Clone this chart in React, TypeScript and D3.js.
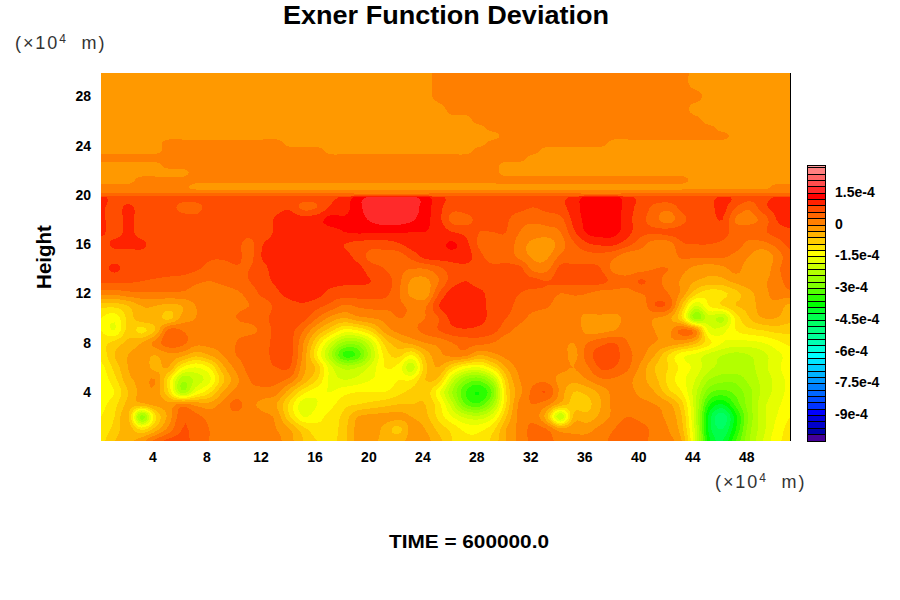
import React from "react";
import * as d3 from "d3";

// Exner deviation, in units of 1e-4. Each row holds 52 samples, x ≈ 0.15 … 51.2 (×10⁴ m).
const rowHeights = [0,1,2,3,4,5,6,7,8,9,10,11,12,13,14,15,16,17,18,19,19.8,20,20.3,20.6,21.2,21.8,22.4,23,23.6,24.2,24.8,25.4,26,27,28,29,29.9];

const y00 = [-1.0,-.6,-.4,-.1,.4,.7,.7,.5,.3,.2, .2,.2,.2,.1,-.2,-.6,-.9,-1.0,-.7,-.2, -.2,-.4,-.4,-.2,-.2,-.5,-.9,-1.1,-1.1,-.8, -.3,.1,.4,.4,.2,.1,.1,.2,.4,.5, .4,.2,.1,-.3,-1.8,-3.8,-4.2,-3.3,-2.4,-1.8, -1.3,-1.1];
const y01 = [-1.1,-.8,-.4,-1.0,-.5,.1,.6,.5,.3,.2, .2,.2,.2,0,-.3,-.8,-1.1,-1.1,-.7,-.2, -.1,-.4,-.7,-.2,-.3,-.7,-1.0,-1.3,-1.3,-1.0, -.3,.1,.4,.3,-.2,-.1,-.1,.1,.3,.5, .4,.2,0,-.5,-1.9,-4.0,-4.5,-3.6,-2.5,-1.9, -1.4,-1.1];
const y02 = [-1.2,-.9,-.5,-2.6,-1.0,-.2,.5,.4,.2,.2, .2,.2,.1,-.1,-.9,-1.5,-1.3,-1.1,-.8,-.3, -.2,-.2,-.2,-.3,-.5,-1.0,-1.5,-1.9,-2.0,-1.6, -.6,.1,.2,-.5,-2.1,-.5,-.5,-.2,.1,.3, .2,.1,-.1,-.6,-2.0,-4.0,-4.7,-3.7,-2.6,-1.9, -1.5,-1.2];
const y03 = [-1.3,-1.0,-.5,-.4,-.2,-.2,.1,-.1,-.2,.1, .4,.1,-.1,-.3,-1.0,-1.7,-1.5,-1.3,-1.0,-.9, -.8,-.7,-.6,-.6,-.6,-1.1,-2.0,-3.0,-3.2,-2.4, -.9,.1,.3,.1,-.4,-.7,-.7,-.3,.1,.2, .1,0,-.2,-.8,-2.0,-3.5,-3.9,-3.2,-2.5,-1.9, -1.6,-1.3];
const y04 = [-1.4,-1.2,-.6,-.2,-.1,-.9,-2.3,-1.5,-1.0,-.3, .1,.2,.2,.1,-.5,-1.1,-1.4,-1.5,-1.3,-1.2, -1.2,-1.2,-1.0,-.8,-.7,-1.4,-2.4,-3.3,-3.6,-2.9, -.9,-.1,.4,.6,-.1,-.6,-.5,-.2,.1,.1, -.1,-.3,-.8,-1.2,-2.0,-2.9,-3.1,-2.9,-2.5,-2.0, -1.7,-1.4];
const y05 = [-1.4,-1.0,-.4,-.2,0,-1.0,-2.3,-2.0,-1.6,-.7, -.1,.3,.4,.4,.2,-.4,-.9,-1.6,-1.8,-1.7, -1.5,-1.4,-1.2,-1.2,-.6,-.7,-1.9,-2.7,-2.9,-2.2, -.7,0,.2,.2,-.1,-.2,0,.25,.25,.1, -.2,-.5,-1.0,-1.4,-1.8,-2.4,-2.6,-2.6,-2.3,-2.0, -1.7,-1.4];
const y06 = [-1.3,-.8,-.3,-.1,-.4,-.3,-1.2,-1.5,-1.2,-.4, .1,.4,.5,.6,.6,-.2,-.7,-1.7,-2.2,-2.1, -1.7,-1.2,-1.3,-2.0,-.7,-.3,-.9,-1.4,-1.5,-1.0, -.3,.1,.1,.1,.1,0,.25,.65,.6,.35, -.1,-.6,-.9,-1.3,-1.6,-2.0,-2.2,-2.2,-2.2,-1.9, -1.6,-1.3];
const y07 = [-1.1,-.6,-.3,-.2,-.3,-.1,-.2,-.5,-.3,0, .3,.4,.5,.7,.7,-.1,-1.2,-2.3,-3.4,-3.2, -2.1,-1.1,-.8,-1.2,-.5,-.1,.1,.1,-.3,-.1, .1,.2,.2,.2,.2,-.1,.45,.75,.7,.4, .1,-.3,-.9,-1.4,-1.6,-1.9,-2.1,-2.2,-2.1,-1.9, -1.6,-1.4];
const y08 = [-1.0,-.8,-.5,-.3,.1,.5,.4,.1,.1,.1, .3,.5,.5,.7,.7,0,-.9,-1.8,-2.5,-2.5, -1.8,-.8,-.4,-.2,0,.1,.3,.4,.4,.3, .1,.2,.2,.2,.1,0,.3,.5,.6,.3, .1,0,-.1,-.2,-.5,-1.1,-1.5,-1.6,-1.6,-1.5, -1.3,-1.1];
const y09 = [-1.2,-1.5,-.8,-1.0,-.6,.4,.3,.1,.1,.1, .2,.2,.4,.7,.7,.3,-.3,-.8,-1.3,-1.2, -.8,-.2,.1,.2,.4,.6,.8,.85,.8,.7, .4,.2,.1,.2,.2,.2,-.1,-.1,0,.2, .1,0,-.1,.4,.1,-1.6,-1.6,-1.2,-1.0,-.9, -.8,-.8];
const y10 = [-1.2,-1.4,-.8,-.4,-.4,-.7,-.2,0,.1,.2, .3,.4,.5,.75,.8,.7,.3,-.1,-.3,-.1, 0,.1,.3,.25,.3,.6,1.0,1.1,1.0,.8, .6,.4,.2,.1,.1,.1,-.1,-.1,-.1,.1, .1,0,-.2,-.9,-2.6,-1.9,-2.2,-1.1,-.6,-.3, -.3,-.5];
const y11 = [-.8,-.8,-.6,-.3,-.3,-.4,-.3,0,.15,.2, .25,.3,.4,.7,.8,.85,.7,.5,.25,.35, .4,.4,.35,.25,.25,.9,1.1,1.1,1.0,.8, .7,.5,.4,.35,.1,.1,.2,.3,.2,.2, .1,.6,.5,-.6,-1.8,-1.2,-.9,-.6,-.5,-.1, -.1,-.4];
const y12 = [.1,.1,.2,.25,.25,.25,.25,.2,.2,.2, .25,.4,.7,.85,1.0,1.05,1.0,.8,.75,.75, .75,.7,.35,-.1,-.2,.6,1.05,1.1,1.0,.75, .7,.6,.5,.5,.3,.35,.3,.2,.2,.2, .3,.4,.3,-.1,-.8,-1.1,-1.0,-.7,-.4,-.1, .1,.2];
const y13 = [.65,.65,.65,.6,.55,.5,.45,.35,.3,.35, .45,.6,.8,.95,1.0,1.05,1.05,1.0,.95,.95, .9,.8,.4,-.05,-.1,.3,.75,.9,.75,.75, .7,.7,.7,.6,.7,.7,.7,.7,.5,.4, .65,.4,.2,-.05,-.3,-.4,-.4,-.2,-.1,-.05, .15,.45];
const y14 = [.8,.95,.8,.75,.75,.75,.75,.65,.5,.45, .55,.6,.8,1.05,1.05,1.05,1.05,1.05,1.05,1.0, .75,.6,.4,.3,.3,.5,.75,.8,.8,.7, .7,.7,.2,.2,.7,.7,.7,.6,.2,.15, .2,.3,.3,.1,-.1,-.2,-.1,.1,-.2,-.25, .2,.5];
const y15 = [.8,.8,.8,.8,.8,.8,.8,.8,.65,.65, .7,.5,.95,1.05,1.05,1.05,1.05,1.05,1.0,.8, .5,.5,.45,.7,1.0,1.05,1.05,1.05,.7,.45, .5,.2,-.05,-.05,.35,.45,.5,.5,.35,.1, .15,.15,.15,.35,.35,.35,.35,.2,0,-.25, .1,.5];
const y16 = [.8,.95,.95,.95,.8,.75,.75,.75,.75,.75, .7,.5,.9,1.0,1.05,1.05,1.05,1.05,.9,.8, .75,.75,.85,1.05,1.05,1.1,1.25,1.0,.55,.5, .5,.15,-.1,-.2,.15,.55,.85,.95,.95,.7, .4,.15,.15,.55,.6,.6,.55,.45,.2,.2, .4,.7];
const y17 = [.95,.8,.95,.8,.75,.75,.75,.75,.75,.7, .75,.7,.75,.95,1.05,1.05,1.05,1.1,1.2,1.25, 1.25,1.25,1.25,1.2,1.2,1.1,.9,.8,.6,.6, .6,.3,.2,.2,.3,.85,1.25,1.35,1.3,1.0, .7,.65,.7,.75,.75,.75,.7,.5,.45,.55, .75,.85];
const y18 = [.95,.8,.95,.8,.75,.75,.75,.7,.7,.7, .65,.75,.75,.95,1.05,1.05,1.1,1.3,1.25,1.35, 1.55,1.65,1.65,1.55,1.3,1.0,.5,.5,.7,.75, .65,.4,.35,.4,.5,1.0,1.3,1.4,1.35,1.0, .7,.4,.15,.5,.75,.75,.9,.25,.2,.4, .9,1.0];
const y19 = [.95,.8,.95,.8,.75,.75,.5,.5,.7,.75, .6,.75,.75,.8,.85,.5,.6,.95,1.05,1.4, 1.65,1.7,1.7,1.65,1.35,1.0,.7,.75,.75,.75, .75,.7,.6,.7,.8,1.05,1.35,1.4,1.4,1.0, .8,.5,.4,.7,.75,.8,1.0,.6,.35,.8, 1.0,1.05];
const y198 = [1.0,.75,.75,.7,.7,.7,.7,.7,.7,.7, .7,.7,.7,.7,.7,.7,.7,.8,1.0,1.3, 1.6,1.6,1.6,1.6,1.3,1.0,.8,.75,.75,.75, .75,.7,.7,.7,.8,1.0,1.3,1.3,1.3,1.0, .8,.75,.75,.75,.75,.8,.95,.85,.7,.75, .95,1.0];
const y200 = [.45,.45,.45,.45,.45,.45,.45,.45,.45,.45, .45,.45,.45,.45,.45,.45,.45,.45,.45,.45, .45,.45,.45,.45,.45,.45,.45,.45,.45,.45, .45,.45,.45,.45,.45,.45,.45,.45,.45,.45, .45,.45,.45,.45,.45,.45,.45,.45,.45,.45, .45,.45];
const y203 = [.15,.15,.15,.15,.15,.15,.15,.15,.15,.15, .15,.15,.15,.15,.15,.15,.15,.15,.15,.15, .15,.15,.15,.15,.15,.15,.15,.15,.15,.15, .15,.15,.15,.15,.15,.15,.15,.15,.15,.15, .15,.15,.15,.15,.15,.15,.15,.15,.15,.15, .15,.15];
const y206 = [.1,.1,.1,.1,.1,.1,.1,-.1,-.1,-.1, -.1,-.1,-.1,-.1,-.1,-.1,-.1,-.1,-.1,-.1, -.1,-.1,-.1,-.1,-.1,-.1,-.1,-.1,-.1,-.1, -.1,-.1,-.1,-.1,-.1,-.1,-.1,-.1,-.1,-.1, -.1,-.1,-.1,-.1,-.1,-.1,-.1,-.1,-.1,-.1, .1,.1];
const y212 = [-.1,-.1,-.1,.1,.1,.1,.1,.1,.1,.1, .1,.1,.1,.1,.1,.1,.1,.1,.1,.1, .1,.1,.1,.1,.1,.1,.1,.1,.1,.1, .1,.1,.1,.1,.1,.1,.1,.1,.1,.1, .1,.1,.1,.1,-.1,-.1,-.1,-.1,-.1,-.1, -.1,-.1];
const y218 = [-.1,-.1,-.1,-.1,-.1,-.1,-.1,.1,.1,.1, .1,.1,.1,.1,.1,.1,.1,.1,.1,.1, .1,.1,.1,.1,.1,.1,.1,.1,.1,.1, -.1,-.1,-.1,-.1,-.1,-.1,-.1,-.1,-.1,-.1, -.1,-.1,-.1,-.1,-.1,-.1,-.1,-.1,-.1,-.1, -.1,-.1];
const y224 = [-.1,-.1,-.1,-.1,-.1,.1,.1,.1,.1,.1, .1,.1,.1,.1,.1,.1,.1,.1,.1,.1, .1,.1,.1,.1,.1,.1,.1,.1,.1,.1, -.1,-.1,-.1,-.1,-.1,-.1,-.1,-.1,-.1,-.1, -.1,-.1,-.1,-.1,-.1,-.1,-.1,-.1,-.1,-.1, -.1,-.1];
const y230 = [.1,.1,.1,.1,.1,.1,.1,.1,.1,.1, .1,.1,.1,.1,.1,.1,.1,.1,.1,.1, .1,.1,.1,.1,.1,.1,.1,.1,.1,.1, .1,.1,-.1,-.1,-.1,-.1,-.1,-.1,-.1,-.1, -.1,-.1,-.1,-.1,-.1,-.1,-.1,-.1,-.1,-.1, -.1,-.1];
const y236 = [-.1,-.1,-.1,-.1,-.1,.1,.1,.1,.1,.1, .1,.1,.1,.1,.1,.1,.1,-.1,-.1,-.1, -.1,-.1,-.1,-.1,-.1,-.1,-.1,-.1,.1,.1, .1,.1,.1,-.1,-.1,-.1,-.1,-.1,-.1,-.1, -.1,-.1,-.1,-.1,-.1,-.1,-.1,-.1,-.1,-.1, -.1,-.1];
const y242 = [-.1,-.1,-.1,-.1,-.1,.1,.1,.1,.1,.1, .1,.1,.1,.1,-.1,-.1,-.1,-.1,-.1,-.1, -.1,-.1,-.1,-.1,-.1,-.1,-.1,-.1,-.1,.1, .1,.1,.1,.1,.1,.1,.1,.1,-.1,-.1, -.1,-.1,-.1,-.1,-.1,-.1,-.1,-.1,-.1,-.1, -.1,-.1];
const y248 = [-.1,-.1,-.1,-.1,-.1,-.1,-.1,-.1,-.1,-.1, -.1,-.1,-.1,-.1,-.1,-.1,-.1,-.1,-.1,-.1, -.1,-.1,-.1,-.1,-.1,-.1,-.1,-.1,-.1,-.1, .1,.1,.1,.1,.1,.1,.1,.1,.1,.1, .1,.1,.1,.1,.1,.1,.1,-.1,-.1,-.1, -.1,-.1];
const y254 = [-.1,-.1,-.1,-.1,-.1,-.1,-.1,-.1,-.1,-.1, -.1,-.1,-.1,-.1,-.1,-.1,-.1,-.1,-.1,-.1, -.1,-.1,-.1,-.1,-.1,-.1,-.1,-.1,-.1,.1, .1,.1,.1,.1,.1,.1,.1,.1,.1,.1, .1,.1,.1,.1,.1,.1,-.1,-.1,-.1,-.1, -.1,-.1];
const y260 = [-.1,-.1,-.1,-.1,-.1,-.1,-.1,-.1,-.1,-.1, -.1,-.1,-.1,-.1,-.1,-.1,-.1,-.1,-.1,-.1, -.1,-.1,-.1,-.1,-.1,-.1,-.1,-.1,.1,.1, .1,.1,.1,.1,.1,.1,.1,.1,.1,.1, .1,.1,.1,.1,.1,-.1,-.1,-.1,-.1,-.1, -.1,-.1];
const y270 = [-.1,-.1,-.1,-.1,-.1,-.1,-.1,-.1,-.1,-.1, -.1,-.1,-.1,-.1,-.1,-.1,-.1,-.1,-.1,-.1, -.1,-.1,-.1,-.1,-.1,-.1,.1,.1,.1,.1, .1,.1,.1,.1,.1,.1,.1,.1,.1,.1, .1,.1,.1,.1,-.1,-.1,-.1,-.1,-.1,-.1, -.1,-.1];
const y280 = [-.1,-.1,-.1,-.1,-.1,-.1,-.1,-.1,-.1,-.1, -.1,-.1,-.1,-.1,-.1,-.1,-.1,-.1,-.1,-.1, -.1,-.1,-.1,-.1,-.1,.1,.1,.1,.1,.1, .1,.1,.1,.1,.1,.1,.1,.1,.1,.1, .1,.1,.1,.1,.1,-.1,-.1,-.1,-.1,-.1, -.1,-.1];
const y290 = [-.1,-.1,-.1,-.1,-.1,-.1,-.1,-.1,-.1,-.1, -.1,-.1,-.1,-.1,-.1,-.1,-.1,-.1,-.1,-.1, -.1,-.1,-.1,-.1,-.1,.1,.1,.1,.1,.1, .1,.1,.1,.1,.1,.1,.1,.1,.1,.1, .1,.1,.1,.1,-.1,-.1,-.1,-.1,-.1,-.1, -.1,-.1];
const y299 = [-.1,-.1,-.1,-.1,-.1,-.1,-.1,-.1,-.1,-.1, -.1,-.1,-.1,-.1,-.1,-.1,-.1,-.1,-.1,-.1, -.1,-.1,-.1,-.1,-.1,.1,.1,.1,.1,.1, .1,.1,.1,.1,.1,.1,.1,.1,.1,.1, .1,.1,.1,.1,-.1,-.1,-.1,-.1,-.1,-.1, -.1,-.1];

const gridRows = [y00,y01,y02,y03,y04,y05,y06,y07,y08,y09,y10,y11,y12,y13,y14,y15,y16,y17,y18,y19,y198,y200,y203,y206,y212,y218,y224,y230,y236,y242,y248,y254,y260,y270,y280,y290,y299];

// Colour bar cells from the top: the first cell spans 2.4…2.7 (×1e-4), step 0.3
const bandColors = ["#ff8080","#ff6666","#ff4d4d","#ff2a2a","#ff0000","#ff2200","#ff4d00","#ff6600","#ff7f00","#ff9900","#ffb300","#ffcc00","#ffe600","#ffff00","#e6ff00","#ccff00","#b3ff00","#99ff00","#80ff00","#55ff00","#2aff00","#00ff00","#00ff2a","#00ff4d","#00ff66","#00ff80","#00ff99","#00ffb3","#00ffd9","#00ffff","#00e6ff","#00ccff","#00b3ff","#0099ff","#0080ff","#0066ff","#004dff","#0033ff","#0000ff","#0000e0","#0000cc","#0000aa","#440099"];
const colorTicks = [[1.5,"1.5e-4"],[0,"0"],[-1.5,"-1.5e-4"],[-3,"-3e-4"],[-4.5,"-4.5e-4"],[-6,"-6e-4"],[-7.5,"-7.5e-4"],[-9,"-9e-4"]] as [number,string][];
const xTicks = [4,8,12,16,20,24,28,32,36,40,44,48];
const yTicks = [4,8,12,16,20,24,28];

const font = "'Liberation Sans', Arial, sans-serif";

const x = d3.scaleLinear().domain([0.15, 51.2]).range([101, 790]);
const y = d3.scaleLinear().domain([0, 29.9]).range([441.3, 73]);
const barY = d3.scaleLinear().domain([0, -10.2]).range([225, 441]);

const nCols = y00.length;
const nRows = gridRows.length;
const colX = d3.scaleLinear().domain([0, nCols - 1]).range([x(0.15), x(51.2)]).clamp(true);
const rowY = d3.scaleLinear().domain(d3.range(nRows)).range(rowHeights.map((h) => y(h))).clamp(true);

// Render-time refinement of the grid so the contour polygons are round, as in a filled contour plot.
const refine = 4;
function cubic(a: number, b: number, c: number, d: number, t: number) {
  return b + 0.5 * t * (c - a + t * (2 * a - 5 * b + 4 * c - d + t * (3 * (b - c) + d - a)));
}
const fineCols = (nCols - 1) * refine + 1;
const fineRows = (nRows - 1) * refine + 1;
const fineRowsData: number[][] = d3.range(fineRows).map((j) => {
  const r = Math.min(Math.floor(j / refine), nRows - 2);
  const t = j / refine - r;
  const pick = (k: number) => gridRows[Math.max(0, Math.min(nRows - 1, k))];
  const [ra, rb, rc, rd] = [pick(r - 1), pick(r), pick(r + 1), pick(r + 2)];
  const col = d3.range(nCols).map((c) => cubic(ra[c], rb[c], rc[c], rd[c], t));
  return d3.range(fineCols).map((i) => {
    const k = Math.min(Math.floor(i / refine), nCols - 2);
    const s = i / refine - k;
    const at = (q: number) => col[Math.max(0, Math.min(nCols - 1, q))];
    return cubic(at(k - 1), at(k), at(k + 1), at(k + 2), s);
  });
});
const flat = fineRowsData.flat();
const contourGen = d3.contours().size([fineCols, fineRows]);

function bandPath(level: number) {
  const c = contourGen.contour(flat, level);
  return c.coordinates
    .map((poly: number[][][]) =>
      poly
        .map((ring) => "M" + ring.map(([a, b]) => `${colX((a - 0.5) / refine).toFixed(1)},${rowY((b - 0.5) / refine).toFixed(1)}`).join("L") + "Z")
        .join("")
    )
    .join("");
}

function Unit({ px, py }: { px: number; py: number }) {
  return (
    <text x={px} y={py} fontFamily={font} fontSize={18} fill="#333" letterSpacing={1.9}>
      (×10<tspan dy={-6} fontSize={12}>4</tspan><tspan dy={6}>{"\u00a0\u00a0"}m)</tspan>
    </text>
  );
}

export default function App() {
  const cells = bandColors.map((color, i) => ({ color, top: 2.7 - 0.3 * i }));
  return (
    <svg width={900} height={600} style={{ position: "absolute", left: 0, top: 0, background: "#fff" }}>
      <text x={446} y={24} textAnchor="middle" fontFamily={font} fontWeight="bold" fontSize={26} textLength={326} lengthAdjust="spacingAndGlyphs">Exner Function Deviation</text>
      <Unit px={15} py={49} />
      <Unit px={715} py={488} />
      <g shapeRendering="crispEdges">
        <rect x={x(0.15)} y={y(29.9)} width={x(51.2) - x(0.15)} height={y(0) - y(29.9)} fill={bandColors[bandColors.length - 1]} />
        {[...cells].reverse().map((c, i) => (
          <path key={i} d={bandPath(c.top - 0.3)} fill={c.color} />
        ))}
        <line x1={790.5} x2={790.5} y1={73} y2={441} stroke="#000" />
        <rect x={807.5} y={165.5} width={18} height={2.5} fill="#ff9999" stroke="#000" />
        {cells.map((c, i) => (
          <rect key={i} x={807.5} y={barY(c.top)} width={18} height={barY(c.top - 0.3) - barY(c.top)} fill={c.color} stroke="#000" strokeWidth={1} />
        ))}
      </g>
      {xTicks.map((t) => (
        <text key={t} x={x(t)} y={462} textAnchor="middle" fontFamily={font} fontWeight="bold" fontSize={14}>{t}</text>
      ))}
      {yTicks.map((t) => (
        <text key={t} x={91} y={y(t) + 5} textAnchor="end" fontFamily={font} fontWeight="bold" fontSize={14}>{t}</text>
      ))}
      {colorTicks.map(([v, s]) => (
        <text key={s} x={835} y={barY(v) + 3.5} fontFamily={font} fontWeight="bold" fontSize={14}>{s}</text>
      ))}
      <text transform="translate(51,257) rotate(-90)" textAnchor="middle" fontFamily={font} fontWeight="bold" fontSize={20.5}>Height</text>
      <text x={469} y={548} textAnchor="middle" fontFamily={font} fontWeight="bold" fontSize={19} textLength={160} lengthAdjust="spacingAndGlyphs">TIME = 600000.0</text>
    </svg>
  );
}
